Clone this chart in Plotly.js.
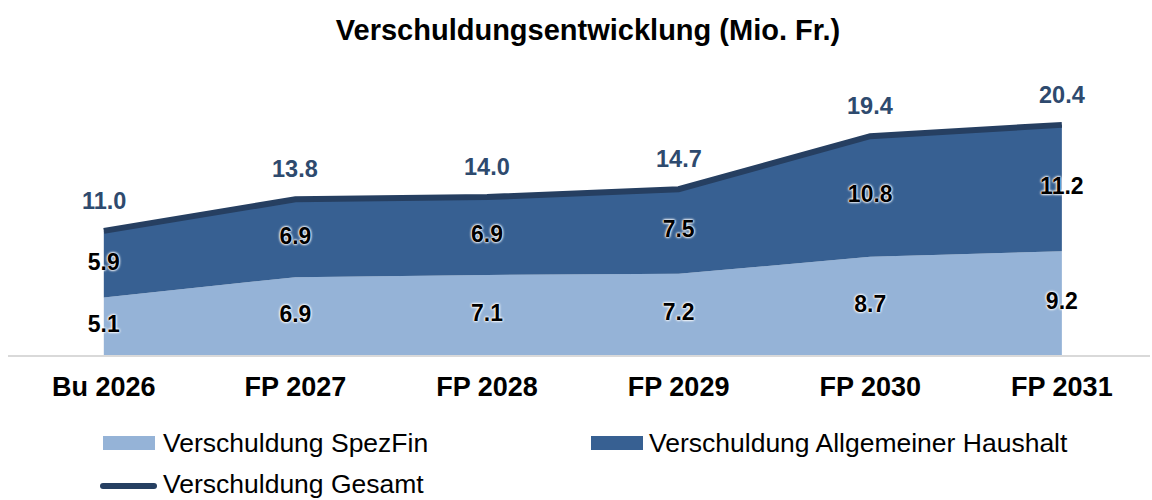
<!DOCTYPE html>
<html><head><meta charset="utf-8">
<script src="https://cdn.plot.ly/plotly-3.0.1.min.js"></script>
<style>html,body{margin:0;padding:0;background:#fff}</style>
</head><body>
<div id="chart" style="width:1152px;height:500px"></div>
<script>
const categories = ["Bu 2026", "FP 2027", "FP 2028", "FP 2029", "FP 2030", "FP 2031"];
const spezFin = [5.1, 6.9, 7.1, 7.2, 8.7, 9.2];
const allgemein = [5.9, 6.9, 6.9, 7.5, 10.8, 11.2];
const gesamt = [11.0, 13.8, 14.0, 14.7, 19.4, 20.4];
const seriesNames = ["Verschuldung SpezFin", "Verschuldung Allgemeiner Haushalt", "Verschuldung Gesamt"];

const FONT = "Liberation Sans, Arial, Helvetica, sans-serif";
const cLight = "#95B3D7", cDark = "#376092", cLine = "#263F61", cLabel = "#2E4A6E";

const fmt = v => v.toFixed(1);
const midLow = spezFin.map(v => v / 2);
const midHigh = spezFin.map((v, i) => v + allgemein[i] / 2);

const traces = [
  {type: "scatter", name: seriesNames[0], x: categories, y: spezFin, stackgroup: "s",
   mode: "none", fillcolor: cLight, hoverinfo: "skip", showlegend: false},
  {type: "scatter", name: seriesNames[1], x: categories, y: allgemein, stackgroup: "s",
   mode: "none", fillcolor: cDark, hoverinfo: "skip", showlegend: false},
  {type: "scatter", name: seriesNames[2], x: categories, y: gesamt, mode: "lines",
   line: {color: cLine, width: 6}, hoverinfo: "skip", showlegend: false},
  {type: "scatter", x: categories.concat(categories), y: midLow.concat(midHigh),
   text: spezFin.map(fmt).concat(allgemein.map(fmt)), mode: "text", showlegend: false,
   textposition: "middle center", hoverinfo: "skip",
   textfont: {family: FONT, size: 23, color: "#000", weight: "bold",
     shadow: "0 0 3px #fff, 0 0 3px #fff, 0 0 2px #fff, 0 0 1px #fff"}}
];

const annotations = categories.map((c, i) => ({
  x: c, y: gesamt[i], xref: "x", yref: "y", text: "<b>" + fmt(gesamt[i]) + "</b>",
  showarrow: false, yshift: 30, font: {family: FONT, size: 23.5, color: cLabel}
}));

// custom legend (pixel positions converted to paper coordinates)
const PL = 8, PW = 1142, PT = 60, PH = 295;
const px = v => (v - PL) / PW;
const py = v => (PT + PH - v) / PH;
const shapes = [
  {type: "rect", xref: "paper", yref: "paper", x0: px(103), x1: px(155), y0: py(450), y1: py(436),
   fillcolor: cLight, line: {width: 0}},
  {type: "rect", xref: "paper", yref: "paper", x0: px(591), x1: px(643), y0: py(450), y1: py(436),
   fillcolor: cDark, line: {width: 0}},
  {type: "line", xref: "paper", yref: "paper", x0: px(103), x1: px(154), y0: py(486), y1: py(486),
   line: {color: cLine, width: 6}},
  {type: "circle", xref: "paper", yref: "paper", x0: px(100), x1: px(106), y0: py(489), y1: py(483),
   fillcolor: cLine, line: {width: 0}},
  {type: "circle", xref: "paper", yref: "paper", x0: px(151), x1: px(157), y0: py(489), y1: py(483),
   fillcolor: cLine, line: {width: 0}}
];
const legendPos = [[161, 443], [647, 443], [161, 484]];
seriesNames.forEach((n, i) => annotations.push({
  xref: "paper", yref: "paper", x: px(legendPos[i][0]), y: py(legendPos[i][1]),
  xanchor: "left", yanchor: "middle", text: n, showarrow: false,
  font: {family: FONT, size: 26.5, color: "#000"}
}));

const layout = {
  width: 1152, height: 500,
  margin: {l: PL, r: 2, t: PT, b: 145},
  paper_bgcolor: "#fff", plot_bgcolor: "#fff",
  title: {text: "<b>Verschuldungsentwicklung (Mio. Fr.)</b>", font: {family: FONT, size: 29, color: "#000"},
          x: 0.5104, xanchor: "center", y: 0.94, yanchor: "middle", yref: "container"},
  xaxis: {type: "category", range: [-0.5, 5.46], showgrid: false, zeroline: false,
          showline: true, linecolor: "#D9D9D9", linewidth: 2, ticks: "",
          tickfont: {family: FONT, size: 27, color: "#000", weight: "bold"}, ticklabelstandoff: 7},
  yaxis: {range: [0, 26.15], visible: false, showgrid: false, zeroline: false},
  showlegend: false,
  shapes: shapes,
  annotations: annotations,
  hovermode: false
};

Plotly.newPlot("chart", traces, layout, {displayModeBar: false, staticPlot: true});
</script>
</body></html>
